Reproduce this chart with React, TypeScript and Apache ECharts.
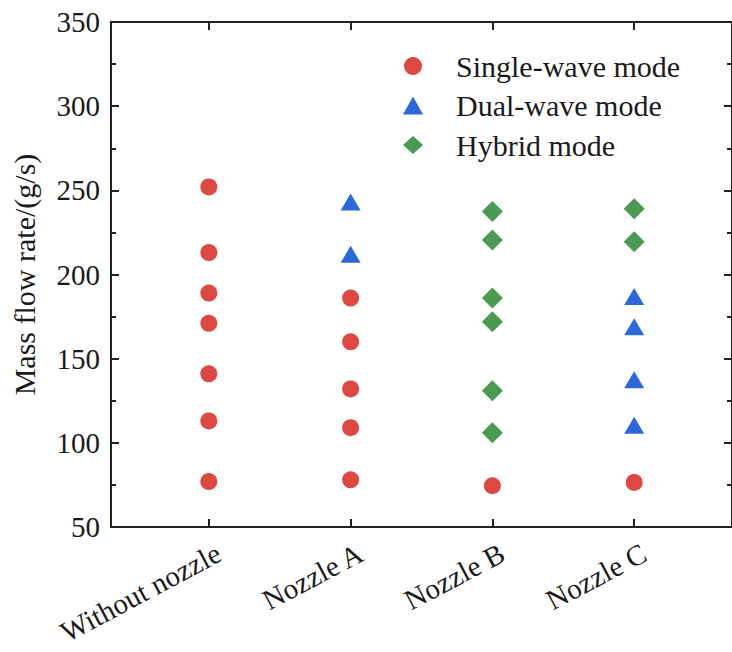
import React, { useEffect, useRef } from "react";
import * as echarts from "echarts";

const categories = ["Without nozzle", "Nozzle A", "Nozzle B", "Nozzle C"];
const seriesNames = ["Single-wave mode", "Dual-wave mode", "Hybrid mode"];
// values per category (Without nozzle, Nozzle A, Nozzle B, Nozzle C)
const singleWave = [
  [252, 213, 189, 171, 141, 113, 77],
  [186, 160, 132, 109, 78],
  [74.5],
  [76.5],
];
const dualWave = [[], [243, 212], [], [187, 169, 137.5, 110.5]];
const hybrid = [[], [], [237.5, 220.5, 186, 172, 131, 106], [239, 219.5]];
const yTicks = [50, 100, 150, 200, 250, 300, 350];

const FONT = "'Liberation Serif', 'Times New Roman', serif";
const AXIS_COLOR = "#222";
const TEXT_COLOR = "#1a1a1a";

function toPoints(groups: number[][]) {
  const pts: number[][] = [];
  groups.forEach((vals, i) => vals.forEach((v) => pts.push([i + 1, v])));
  return pts;
}

export default function App() {
  const ref = useRef<HTMLDivElement>(null);
  useEffect(() => {
    if (!ref.current) return;
    const chart = echarts.init(ref.current, null, { renderer: "svg" });
    const catTicks = categories.map((_, i) => i + 1);
    const labelPos = categories.map((_, i) => i + 1.07);
    const axisLine = { show: true, onZero: false, lineStyle: { color: AXIS_COLOR, width: 2 } };
    const tickStyle = { color: AXIS_COLOR, width: 2 };
    chart.setOption({
      animation: false,
      backgroundColor: "#fff",
      grid: { left: 111, top: 22, width: 622, height: 505 },
      legend: {
        orient: "vertical",
        left: 398,
        top: 46,
        itemWidth: 20,
        itemHeight: 18,
        itemGap: 9.5,
        textStyle: { fontFamily: FONT, fontSize: 30, color: TEXT_COLOR, padding: [0, 0, 0, 28] },
        data: seriesNames,
      },
      xAxis: [
        {
          type: "value",
          min: 0.31,
          max: 4.69,
          position: "bottom",
          axisLine,
          splitLine: { show: false },
          axisTick: { show: true, inside: true, length: 8, customValues: catTicks, lineStyle: tickStyle },
          axisLabel: {
            customValues: labelPos,
            formatter: (v: number) => categories[Math.round(v) - 1] || "",
            rotate: 28,
            margin: 24,
            fontFamily: FONT,
            fontSize: 29,
            color: TEXT_COLOR,
          },
        },
        {
          type: "value",
          min: 0.31,
          max: 4.69,
          position: "top",
          axisLine,
          splitLine: { show: false },
          axisTick: { show: true, inside: true, length: 8, customValues: catTicks, lineStyle: tickStyle },
          axisLabel: { show: false },
        },
      ],
      yAxis: [
        {
          type: "value",
          min: yTicks[0],
          max: yTicks[yTicks.length - 1],
          interval: 50,
          position: "left",
          name: "Mass flow rate/(g/s)",
          nameLocation: "middle",
          nameGap: 72,
          nameTextStyle: { fontFamily: FONT, fontSize: 30, color: TEXT_COLOR },
          axisLine,
          splitLine: { show: false },
          axisTick: { show: true, inside: true, length: 8, lineStyle: tickStyle },
          minorTick: { show: true, splitNumber: 2, length: 5, lineStyle: tickStyle },
          axisLabel: { margin: 11, fontFamily: FONT, fontSize: 29, color: TEXT_COLOR },
        },
        {
          type: "value",
          min: yTicks[0],
          max: yTicks[yTicks.length - 1],
          interval: 50,
          position: "right",
          axisLine,
          splitLine: { show: false },
          axisTick: { show: true, inside: true, length: 8, lineStyle: tickStyle },
          minorTick: { show: true, splitNumber: 2, length: 5, lineStyle: tickStyle },
          axisLabel: { show: false },
        },
      ],
      series: [
        {
          name: seriesNames[0],
          type: "scatter",
          symbol: "circle",
          symbolSize: 17,
          itemStyle: { color: "#DE4843", opacity: 1 },
          data: toPoints(singleWave),
        },
        {
          name: seriesNames[1],
          type: "scatter",
          symbol: "triangle",
          symbolSize: [20, 17],
          itemStyle: { color: "#2D68DA", opacity: 1 },
          data: toPoints(dualWave),
        },
        {
          name: seriesNames[2],
          type: "scatter",
          symbol: "diamond",
          symbolSize: 21,
          itemStyle: { color: "#4A9A52", opacity: 1 },
          data: toPoints(hybrid),
        },
      ],
    });
    return () => chart.dispose();
  }, []);
  return (
    <div
      ref={ref}
      style={{ position: "fixed", left: 0, top: 0, width: 732, height: 652, background: "#fff" }}
    />
  );
}
